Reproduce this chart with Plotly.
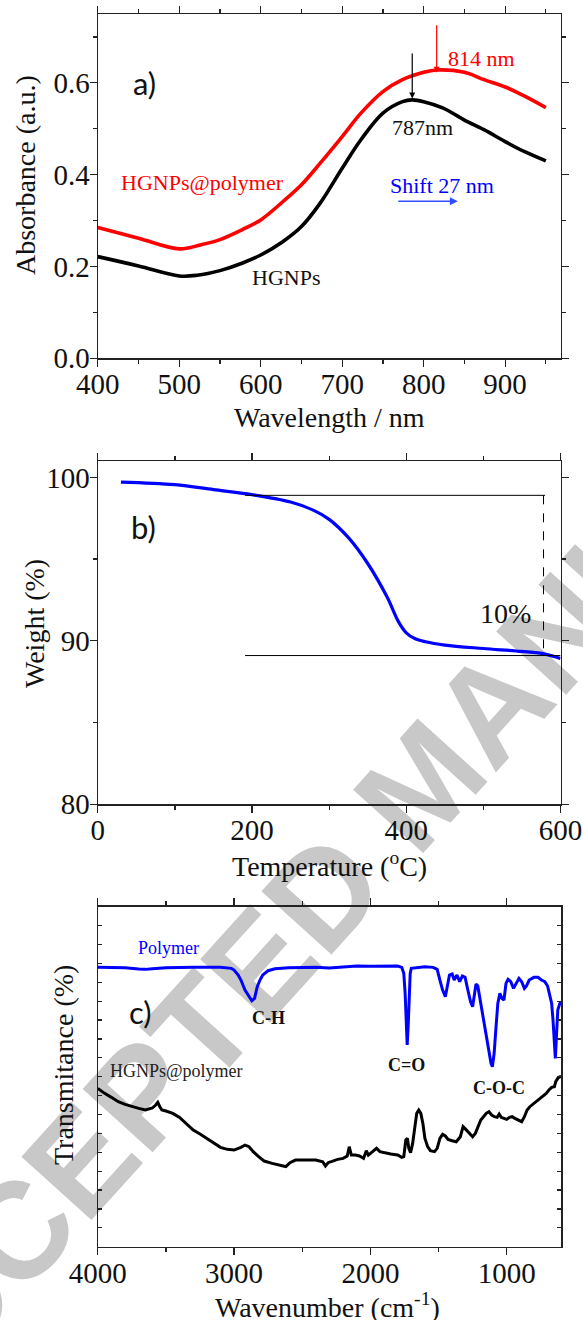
import math
import plotly.graph_objects as go

W, H = 583, 1320
SERIF = "Liberation Serif"
SANS = "Lato"

# ---------------- Panel a: UV-Vis ----------------
wl_hgnps = [400, 450, 500, 522, 550, 577, 600, 627, 650, 673, 700, 723, 750, 774, 786, 800, 824, 850, 874, 900, 924, 950]
abs_hgnps = [0.2215, 0.2012, 0.1794, 0.1809, 0.191, 0.207, 0.225, 0.254, 0.287, 0.338, 0.414, 0.476,
             0.534, 0.559, 0.563, 0.559, 0.545, 0.519, 0.498, 0.472, 0.450, 0.430]
wl_poly = [400, 450, 500, 526, 550, 577, 600, 627, 650, 673, 700, 723, 750, 774, 800, 816, 850, 874, 900, 924, 950]
abs_poly = [0.2847, 0.2615, 0.2383, 0.247, 0.2586, 0.280, 0.3015, 0.341, 0.378, 0.425, 0.483, 0.534,
            0.581, 0.607, 0.623, 0.628, 0.623, 0.607, 0.591, 0.571, 0.546]

# ---------------- Panel b: TGA ----------------
temp = [30, 100, 150, 200, 250, 280, 300, 325, 350, 375, 390, 400, 411, 425, 450, 500, 550, 580, 600]
weight = [99.71, 99.55, 99.25, 98.94, 98.49, 97.98, 97.43, 96.31, 94.73, 92.69, 91.16, 90.49, 90.14,
          89.94, 89.74, 89.53, 89.35, 89.19, 88.92]

# ---------------- Panel c: FTIR ----------------
wn_poly = [4000, 3800, 3700, 3650, 3600, 3500, 3300, 3100, 3020, 3000, 2970, 2950, 2920, 2890, 2870, 2850,
           2830, 2810, 2790, 2750, 2700, 2600, 2400, 2300, 2200, 2100, 2000, 1900, 1800, 1770, 1755, 1745,
           1735, 1730, 1722, 1715, 1708, 1700, 1650, 1600, 1540, 1510, 1490, 1470, 1450, 1435, 1420, 1400,
           1385, 1365, 1345, 1325, 1305, 1285, 1265, 1250, 1238, 1225, 1212, 1195, 1175, 1155, 1135, 1115,
           1105, 1092, 1078, 1065, 1050, 1035, 1020, 1005, 990, 970, 950, 930, 910, 890, 870, 855, 835, 800,
           770, 745, 720, 700, 685, 670, 660, 650, 643, 635, 625, 610, 600]
tr_poly = [73.94, 73.85, 73.50, 73.41, 73.59, 73.85, 73.94, 73.94, 73.68, 73.24, 71.91, 70.59, 67.94, 66.18,
           65.12, 65.74, 68.82, 70.59, 71.91, 73.06, 73.59, 73.85, 73.94, 73.76, 74.12, 74.29, 74.21, 74.29,
           74.29, 73.94, 72.35, 67.06, 58.24, 53.38, 59.12, 67.94, 72.35, 73.68, 73.85, 74.12, 73.94, 73.41,
           70.59, 67.94, 66.18, 68.82, 71.91, 72.18, 70.59, 71.91, 70.15, 71.65, 71.30, 67.94, 64.85, 63.53,
           66.18, 69.53, 69.00, 65.29, 61.77, 57.35, 52.06, 48.53, 47.65, 51.18, 58.24, 64.41, 67.06, 65.74,
           65.29, 69.71, 70.77, 70.15, 68.38, 69.71, 71.03, 70.15, 68.38, 69.00, 70.59, 71.30, 71.30, 70.59,
           70.15, 69.00, 67.06, 64.41, 60.00, 53.82, 49.85, 55.59, 62.65, 64.41, 64.85]

wn_hgnp = [4000, 3950, 3900, 3850, 3800, 3750, 3700, 3650, 3600, 3575, 3560, 3545, 3530, 3500, 3450, 3400,
           3350, 3300, 3250, 3200, 3150, 3100, 3050, 3000, 2950, 2920, 2890, 2860, 2820, 2780, 2720, 2680,
           2640, 2620, 2590, 2550, 2500, 2450, 2400, 2350, 2330, 2310, 2280, 2240, 2200, 2170, 2155, 2140,
           2110, 2080, 2050, 2030, 2015, 2000, 1975, 1955, 1930, 1900, 1850, 1800, 1770, 1755, 1740, 1728,
           1718, 1705, 1690, 1675, 1660, 1645, 1630, 1615, 1600, 1580, 1560, 1530, 1510, 1490, 1470, 1450,
           1430, 1400, 1370, 1340, 1320, 1300, 1280, 1250, 1230, 1210, 1190, 1170, 1150, 1130, 1110, 1090,
           1070, 1055, 1040, 1020, 1000, 980, 960, 940, 910, 890, 870, 850, 830, 800, 770, 740, 710, 690,
           670, 650, 640, 625, 610, 600]
tr_hgnp = [41.91, 40.59, 39.53, 38.38, 37.68, 37.06, 36.62, 36.18, 36.71, 37.50, 38.21, 37.06, 36.18, 35.91,
           35.30, 34.24, 32.65, 30.88, 29.82, 28.68, 27.35, 26.29, 25.77, 25.59, 26.29, 26.91, 26.47, 25.15,
           23.82, 22.68, 22.06, 21.79, 21.35, 21.18, 22.24, 22.94, 22.94, 23.12, 22.94, 22.50, 21.35, 22.24,
           22.68, 23.12, 23.38, 24.00, 26.47, 24.26, 24.26, 24.00, 23.38, 25.41, 24.26, 24.71, 25.59, 26.03,
           25.15, 24.88, 24.53, 24.26, 23.65, 23.82, 28.24, 28.68, 26.03, 24.88, 27.35, 31.32, 35.30, 36.18,
           35.30, 32.65, 28.68, 26.47, 25.41, 25.15, 26.03, 28.68, 29.74, 29.30, 28.41, 28.06, 27.79, 29.12,
           31.77, 31.06, 30.18, 29.12, 30.00, 31.77, 33.53, 34.41, 35.30, 35.74, 34.85, 34.41, 34.24, 35.12,
           34.24, 33.97, 33.71, 34.24, 34.41, 33.97, 33.35, 33.09, 34.41, 36.18, 37.06, 37.94, 38.82, 39.88,
           40.59, 41.47, 42.18, 42.35, 43.68, 44.56, 45.00, 45.00]


def px(x):
    return x / W


def py(y):
    return 1 - y / H


fig = go.Figure()

fig.add_trace(go.Scatter(x=wl_poly, y=abs_poly, mode="lines", line=dict(color="#ff0000", width=3.6, shape="spline"),
                         xaxis="x", yaxis="y", showlegend=False, hoverinfo="skip"))
fig.add_trace(go.Scatter(x=wl_hgnps, y=abs_hgnps, mode="lines", line=dict(color="#000000", width=3.6, shape="spline"),
                         xaxis="x", yaxis="y", showlegend=False, hoverinfo="skip"))
fig.add_trace(go.Scatter(x=temp, y=weight, mode="lines", line=dict(color="#0000ff", width=3.2, shape="spline"),
                         xaxis="x2", yaxis="y2", showlegend=False, hoverinfo="skip"))
fig.add_trace(go.Scatter(x=wn_poly, y=tr_poly, mode="lines", line=dict(color="#0000ff", width=3.0),
                         xaxis="x3", yaxis="y3", showlegend=False, hoverinfo="skip"))
fig.add_trace(go.Scatter(x=wn_hgnp, y=tr_hgnp, mode="lines", line=dict(color="#000000", width=3.0),
                         xaxis="x3", yaxis="y3", showlegend=False, hoverinfo="skip"))

AXC = "#222222"


def ax(rng, dtick, minor_dtick, domain, anchor, showlabels=True, ticks="outside", standoff=-7, **kw):
    d = dict(range=rng, domain=domain, anchor=anchor, showline=True, linecolor=AXC, linewidth=1.3,
             mirror="ticks", ticks=ticks, ticklen=7, tickwidth=1.2, tickcolor=AXC, showgrid=False,
             zeroline=False, dtick=dtick, showticklabels=showlabels, automargin=False,
             ticklabelstandoff=standoff,
             tickfont=dict(family=SERIF, size=29, color="#111111"))
    if minor_dtick:
        d["minor"] = dict(dtick=minor_dtick, ticks=ticks, ticklen=4, tickwidth=1.2, tickcolor=AXC, showgrid=False)
    d.update(kw)
    return d


xdom = [px(97.8), px(560.5)]
fig.update_layout(
    template="none",
    width=W, height=H, margin=dict(l=0, r=0, t=0, b=0, pad=0), autosize=False,
    paper_bgcolor="white", plot_bgcolor="rgba(0,0,0,0)", showlegend=False,
    font=dict(family=SERIF, color="#111111"),
    xaxis=ax([400, 968], 100, 50, xdom, "y"),
    yaxis=ax([0, 0.75], 0.2, 0.1, [py(358.3), py(14)], "x", tickformat=".1f", standoff=-6),
    xaxis2=ax([0, 600], 200, 100, xdom, "y2"),
    yaxis2=ax([80, 101], 10, 5, [py(804.3), py(461)], "x2", tick0=80, standoff=-6),
    xaxis3=ax([4000, 600], 1000, 500, [px(97.8), px(561.2)], "y3"),
    yaxis3=ax([0, 90], 5, None, [py(1246.7), py(906.7)], "x3", showlabels=False, ticks="inside", standoff=0),
)
fig.update_layout(yaxis3=dict(ticklen=4))

anns = []


def txt(text, x, y, xref, yref, size, color="#111111", family=SERIF, angle=0, **kw):
    anns.append(dict(text=text, x=x, y=y, xref=xref, yref=yref, showarrow=False, textangle=angle,
                     font=dict(family=family, size=size, color=color), xanchor="center", yanchor="middle", **kw))


# axis titles
txt("Wavelength / nm", px(329), py(417), "paper", "paper", 28)
txt("Absorbance (a.u.)", px(25), py(175), "paper", "paper", 28, angle=-90)
txt("Temperature (<sup>o</sup>C)", px(329), py(864), "paper", "paper", 28)
txt("Weight (%)", px(35), py(624), "paper", "paper", 28, angle=-90)
txt("Wavenumber (cm<sup>-1</sup>)", px(327), py(1305), "paper", "paper", 28)
txt("Transmitance (%)", px(63), py(1065), "paper", "paper", 28, angle=-90)

# panel a texts
txt("a)", 457, 0.599, "x", "y", 31, family=SANS)
txt("814 nm", 871, 0.652, "x", "y", 22, color="#ff0000")
txt("787nm", 798, 0.503, "x", "y", 22)
txt("HGNPs@polymer", 529, 0.384, "x", "y", 22, color="#ff0000")
txt("Shift 27 nm", 823, 0.377, "x", "y", 22, color="#0000ff")
txt("HGNPs", 631, 0.176, "x", "y", 22)
anns.append(dict(x=816, y=0.622, ax=816, ay=0.729, xref="x", yref="y", axref="x", ayref="y", text="",
                 showarrow=True, arrowhead=2, arrowsize=1, arrowwidth=1.2, arrowcolor="#ff0000"))
anns.append(dict(x=786, y=0.566, ax=786, ay=0.667, xref="x", yref="y", axref="x", ayref="y", text="",
                 showarrow=True, arrowhead=2, arrowsize=1, arrowwidth=1.2, arrowcolor="#000000"))
anns.append(dict(x=842, y=0.342, ax=767, ay=0.342, xref="x", yref="y", axref="x", ayref="y", text="",
                 showarrow=True, arrowhead=2, arrowsize=1, arrowwidth=1.6, arrowcolor="#3050ff"))

# panel b texts
txt("b)", 59, 96.97, "x2", "y2", 31, family=SANS)
txt("10%", 529, 91.67, "x2", "y2", 28)

# panel c texts
txt("Polymer", 3484, 79.1, "x3", "y3", 18, color="#0000ff")
txt("c)", 3686, 62.2, "x3", "y3", 31, family=SANS)
txt("<b>C-H</b>", 2744, 60.6, "x3", "y3", 18)
txt("<b>C=O</b>", 1737, 48.1, "x3", "y3", 18)
txt("HGNPs@polymer", 3424, 46.6, "x3", "y3", 18, color="#222222")
txt("<b>C-O-C</b>", 1060, 41.9, "x3", "y3", 18)

fig.update_layout(annotations=anns)

# watermark geometry (pixel centre and direction)
WM_CX, WM_CY = 413, 774
WM_ANG = 47.9
dx = 100 * math.cos(math.radians(WM_ANG))
dy = 100 * math.sin(math.radians(WM_ANG))

shapes = [
    dict(type="line", xref="x2", yref="y2", x0=191, x1=580, y0=98.9, y1=98.9, line=dict(color="#000000", width=1)),
    dict(type="line", xref="x2", yref="y2", x0=191, x1=600, y0=89.1, y1=89.1, line=dict(color="#000000", width=1)),
    dict(type="line", xref="x2", yref="y2", x0=578, x1=578, y0=98.9, y1=89.1,
         line=dict(color="#000000", width=1, dash="dash")),
    dict(type="line", xref="paper", yref="paper", layer="below",
         x0=px(WM_CX - dx), y0=py(WM_CY + dy), x1=px(WM_CX + dx), y1=py(WM_CY - dy),
         line=dict(color="rgba(0,0,0,0)", width=0),
         label=dict(text="ACCEPTED MANUSCRIPT", textposition="middle", textangle=-WM_ANG,
                    xanchor="center", yanchor="middle",
                    font=dict(family="Liberation Sans", size=137, color="#c8c8c8", weight="bold"))),
]
fig.update_layout(shapes=shapes)

fig.write_html("out.html", config={"displayModeBar": False, "staticPlot": True},
               post_script="document.body.style.margin='0px';document.body.style.overflow='hidden';")
